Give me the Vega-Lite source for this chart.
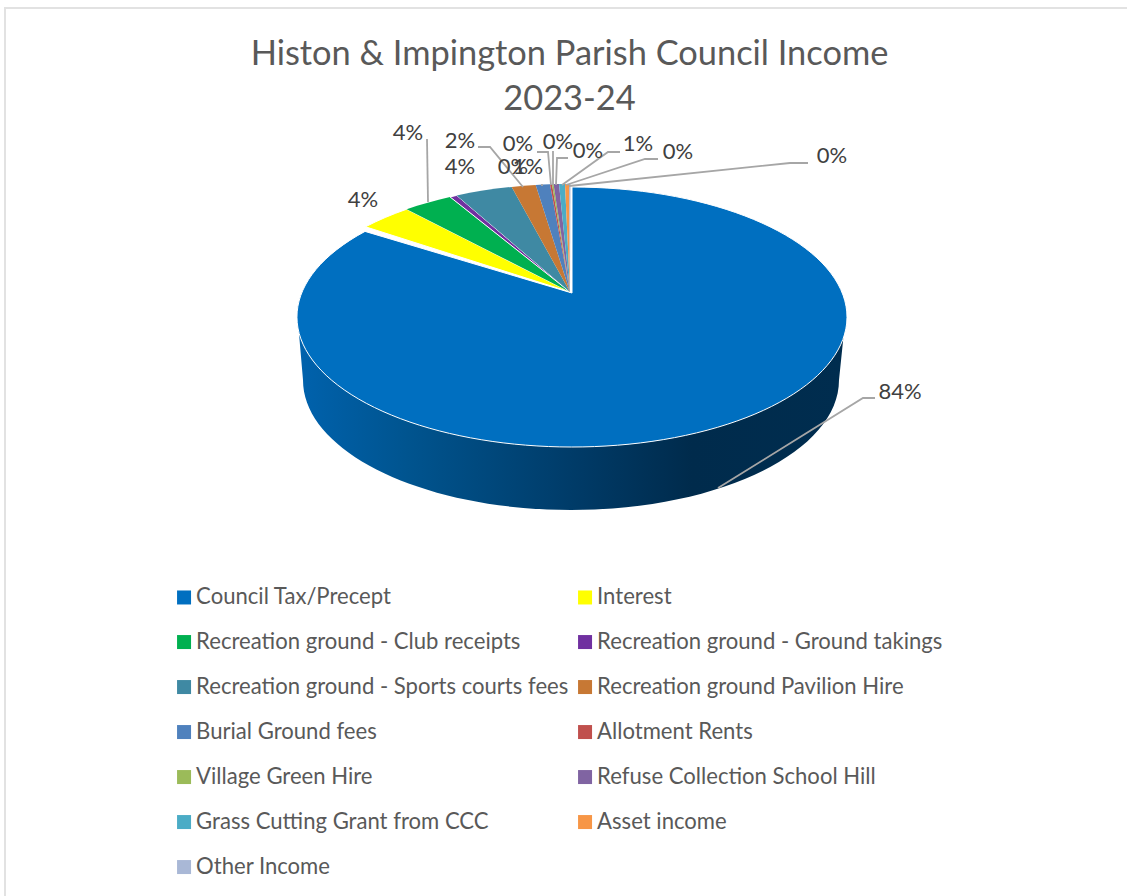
{
"$schema":"https://vega.github.io/schema/vega-lite/v6.json",
"width":1127,"height":896,"padding":0,"autosize":{"type":"none"},
"background":"white",
"view":{"stroke":null},
"title":{"text":["Histon & Impington Parish Council Income","2023-24"],"anchor":"middle","frame":"group","dx":6,"dy":117,"font":"Lato","fontSize":34.4,"fontWeight":"normal","color":"#595959","lineHeight":45,"offset":0},
"datasets":{
"income":[
{"slice":"s01","category":"Council Tax/Precept","value":84},
{"slice":"s02","category":"Interest","value":4.2},
{"slice":"s03","category":"Recreation ground - Club receipts","value":3.6},
{"slice":"s04","category":"Recreation ground - Ground takings","value":0.4},
{"slice":"s05","category":"Recreation ground - Sports courts fees","value":3.8},
{"slice":"s06","category":"Recreation ground Pavilion Hire","value":1.7},
{"slice":"s07","category":"Burial Ground fees","value":0.9},
{"slice":"s08","category":"Allotment Rents","value":0.1},
{"slice":"s09","category":"Village Green Hire","value":0.1},
{"slice":"s10","category":"Refuse Collection School Hill","value":0.4},
{"slice":"s11","category":"Grass Cutting Grant from CCC","value":0.5},
{"slice":"s12","category":"Asset income","value":0.3},
{"slice":"s13","category":"Other Income","value":0.1}],
"labels":[
{"category":"Council Tax/Precept","text":"84%","px":900,"py":392},
{"category":"Interest","text":"4%","px":363,"py":200},
{"category":"Recreation ground - Club receipts","text":"4%","px":408,"py":133},
{"category":"Recreation ground - Ground takings","text":"0%","px":513,"py":167},
{"category":"Recreation ground - Sports courts fees","text":"4%","px":460,"py":167},
{"category":"Recreation ground Pavilion Hire","text":"2%","px":460,"py":141},
{"category":"Burial Ground fees","text":"1%","px":528,"py":167},
{"category":"Allotment Rents","text":"0%","px":518,"py":144},
{"category":"Village Green Hire","text":"0%","px":558,"py":142},
{"category":"Refuse Collection School Hill","text":"0%","px":588,"py":151},
{"category":"Grass Cutting Grant from CCC","text":"1%","px":638,"py":144},
{"category":"Asset income","text":"0%","px":678,"py":152},
{"category":"Other Income","text":"0%","px":832,"py":156}],
"leaders":[
{"id":"a","o":1,"px":875,"py":398},{"id":"a","o":2,"px":863,"py":398},{"id":"a","o":3,"px":718,"py":488},
{"id":"b","o":1,"px":427,"py":139},{"id":"b","o":2,"px":428,"py":202},
{"id":"c","o":1,"px":478,"py":147},{"id":"c","o":2,"px":490,"py":147},{"id":"c","o":3,"px":523,"py":187},
{"id":"d","o":1,"px":537,"py":152},{"id":"d","o":2,"px":548,"py":152},{"id":"d","o":3,"px":551,"py":185},
{"id":"e","o":1,"px":553,"py":151},{"id":"e","o":2,"px":553,"py":185},
{"id":"f","o":1,"px":568,"py":158},{"id":"f","o":2,"px":557,"py":158},{"id":"f","o":3,"px":556,"py":185},
{"id":"g","o":1,"px":620,"py":152},{"id":"g","o":2,"px":608,"py":152},{"id":"g","o":3,"px":562,"py":185},
{"id":"h","o":1,"px":658,"py":159},{"id":"h","o":2,"px":645,"py":159},{"id":"h","o":3,"px":566,"py":185},
{"id":"i","o":1,"px":808,"py":163},{"id":"i","o":2,"px":790,"py":163},{"id":"i","o":3,"px":569,"py":186},
{"id":"j","o":1,"px":542,"py":184},{"id":"j","o":2,"px":542,"py":186}],
"frame":[{"o":1,"px":1127,"py":8},{"o":2,"px":5,"py":8},{"o":3,"px":5,"py":896}]
},
"layer":[
{"data":{"name":"frame"},
 "mark":{"type":"line","stroke":"#e2e2e2","strokeWidth":2},
 "encoding":{"x":{"field":"px","type":"quantitative","scale":{"domain":[0,1127]},"axis":null},
  "y":{"field":"py","type":"quantitative","scale":{"domain":[896,0]},"axis":null},"order":{"field":"o"}}},
{"data":{"name":"income"},"transform":[{"filter":"datum.value > 50"}],
 "mark":{"type":"point","filled":true,"opacity":1,"size":4,"strokeWidth":0,
  "fill":{"gradient":"linear","x1":0,"x2":1,"y1":0,"y2":0,"stops":[{"offset":0,"color":"#0062ad"},{"offset":0.2,"color":"#00548f"},{"offset":0.52,"color":"#003a66"},{"offset":0.72,"color":"#002b4c"},{"offset":1,"color":"#002d4f"}]},
  "shape":"M-272,30 L-267,88 A268 130 0 0 0 269,88 L275,30 Z"},
 "encoding":{"x":{"datum":570,"type":"quantitative","scale":{"domain":[0,1127]},"axis":null},
  "y":{"datum":292,"type":"quantitative","scale":{"domain":[896,0]},"axis":null}}},
{"data":{"name":"income"},
 "mark":{"type":"point","filled":true,"opacity":1,"size":4,"stroke":"white"},
 "encoding":{"x":{"datum":570,"type":"quantitative","scale":{"domain":[0,1127]},"axis":null},
  "y":{"datum":292,"type":"quantitative","scale":{"domain":[896,0]},"axis":null},
  "strokeWidth":{"condition":{"test":"datum.value >= 4 || datum.category == 'Recreation ground - Ground takings'","value":1},"value":0},
  "color":{"field":"category","type":"nominal","sort":null,
   "scale":{"domain":["Council Tax/Precept","Interest","Recreation ground - Club receipts","Recreation ground - Ground takings","Recreation ground - Sports courts fees","Recreation ground Pavilion Hire","Burial Ground fees","Allotment Rents","Village Green Hire","Refuse Collection School Hill","Grass Cutting Grant from CCC","Asset income","Other Income"],
    "range":["#006fc0","#ffff00","#00b050","#7030a0","#3f89a3","#c77834","#4f81bd","#c0504d","#9bbb59","#8064a2","#4bacc6","#f79646","#a9b8d6"]},
   "legend":{"title":null,"orient":"none","legendX":173,"legendY":586,"columns":2,"direction":"horizontal","symbolType":"square","symbolSize":196,"symbolStrokeWidth":0,"labelFont":"Lato","labelFontSize":22.1,"labelColor":"#595959","labelOffset":1,"labelLimit":600,"rowPadding":22,"columnPadding":5,"padding":0,
    "encode":{"symbols":{"size":{"value":{"signal":"indexof(['Council Tax/Precept','Interest','Recreation ground - Club receipts','Recreation ground - Ground takings'], datum.value) >= 0 ? 64 : 196"}}}}}},
  "shape":{"field":"slice","type":"nominal","legend":null,
   "scale":{"domain":["s01","s02","s03","s04","s05","s06","s07","s08","s09","s10","s11","s12","s13"],
    "range":[
     "M2,1 L2,-105 A275 130 0 1 1 -205,-60.6 Z",
     "M0,0 L-204.5,-65.2 A275 130 0 0 1 -163.3,-82.8 Z",
     "M0,0 L-163.3,-82.8 A275 130 0 0 1 -120,-95.1 Z",
     "M0,0 L-120,-95.1 A275 130 0 0 1 -113.3,-96.6 Z",
     "M0,0 L-113.3,-96.6 A275 130 0 0 1 -58.3,-105.1 Z",
     "M0,0 L-58.3,-105.1 A275 130 0 0 1 -34.3,-107 Z",
     "M0,0 L-34.3,-107 A275 130 0 0 1 -20,-107.7 Z",
     "M0,0 L-20,-107.7 A275 130 0 0 1 -18,-107.8 Z",
     "M0,0 L-18,-107.8 A275 130 0 0 1 -16.5,-107.9 Z",
     "M0,0 L-16.5,-107.9 A275 130 0 0 1 -11,-108 Z",
     "M0,0 L-11,-108 A275 130 0 0 1 -5,-108 Z",
     "M0,0 L-5,-108 A275 130 0 0 1 -1,-108 Z",
     "M0,0 L-1,-108 A275 130 0 0 1 0.5,-108 Z"]}}}},
{"data":{"name":"leaders"},
 "mark":{"type":"line","stroke":"#a6a6a6","strokeWidth":1.8},
 "encoding":{"x":{"field":"px","type":"quantitative","scale":{"domain":[0,1127]},"axis":null},
  "y":{"field":"py","type":"quantitative","scale":{"domain":[896,0]},"axis":null},
  "detail":{"field":"id"},"order":{"field":"o"}}},
{"data":{"name":"labels"},
 "mark":{"type":"text","font":"Lato","fontSize":22,"color":"#404040","align":"center","baseline":"middle"},
 "encoding":{"x":{"field":"px","type":"quantitative","scale":{"domain":[0,1127]},"axis":null},
  "y":{"field":"py","type":"quantitative","scale":{"domain":[896,0]},"axis":null},
  "text":{"field":"text"}}}
],
"config":{"style":{"cell":{"stroke":null}}}
}
